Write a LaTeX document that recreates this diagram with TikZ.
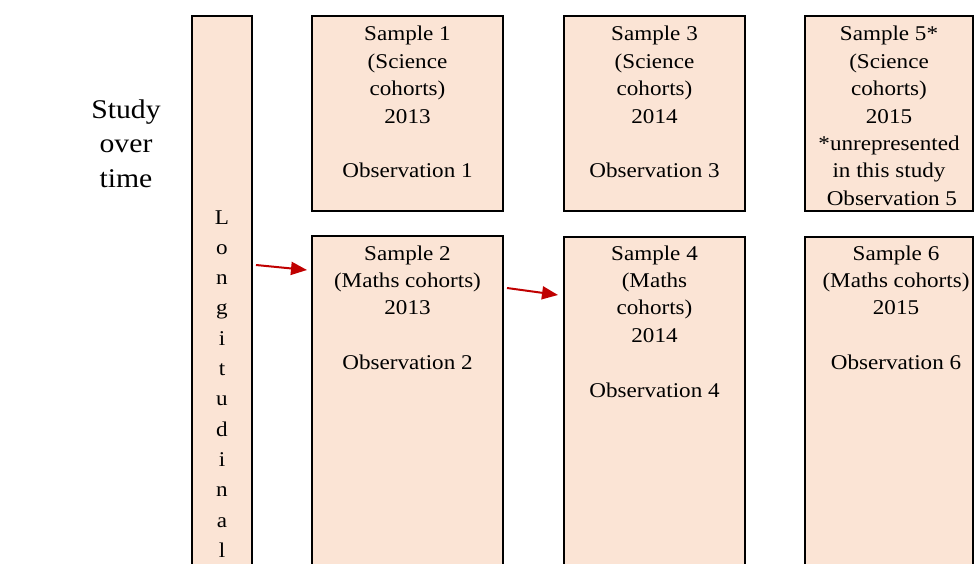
\documentclass[tikz,border=0pt]{standalone}
\usepackage{fontspec}
\setmainfont{Liberation Serif}[FakeStretch=1.1]
\usetikzlibrary{arrows.meta}
\definecolor{peach}{HTML}{FBE4D5}
\definecolor{arrred}{HTML}{C00000}
\newcommand{\boxtext}[4]{\parbox[t][#1][t]{#2}{\centering\fontsize{21}{27.4}\selectfont\rule{0pt}{#3}#4}}
\begin{document}
\begin{tikzpicture}[x=1pt,y=-1pt,
  panel/.style={draw=black, line width=2.2pt, fill=peach, inner sep=0pt, outer sep=0pt, anchor=north west},
  arr/.style={draw=arrred, line width=2pt, -{Triangle[length=16pt,width=13pt]}},
  lbl/.style={align=center, font=\fontsize{27}{34.5}\selectfont, inner sep=0pt}]
\useasboundingbox (0,0) rectangle (974,564);
\clip (0,0) rectangle (974,564);
\node[lbl, anchor=north] (study) at (126,99.5) {Study\\over\\time};
\node[panel] (long) at (192,16) {\parbox[t][584pt][t]{60pt}{\centering\fontsize{21}{30.3}\selectfont\rule{0pt}{208pt}L\\o\\n\\g\\i\\t\\u\\d\\i\\n\\a\\l}};
\node[panel] (s1) at (312,16) {\boxtext{195pt}{191pt}{25pt}{Sample 1\\(Science\\cohorts)\\2013\\[27.4pt]Observation 1}};
\node[panel] (s3) at (564,16) {\boxtext{195pt}{181pt}{25pt}{Sample 3\\(Science\\cohorts)\\2014\\[27.4pt]Observation 3}};
\node[panel] (s5) at (805,16) {\boxtext{195pt}{168pt}{25pt}{Sample 5*\\(Science\\cohorts)\\2015\\{}*unrepresented\\in this study\\\ Observation 5}};
\node[panel] (s2) at (312,236) {\boxtext{364pt}{191pt}{24pt}{Sample 2\\(Maths cohorts)\\2013\\[27.4pt]Observation 2}};
\node[panel] (s4) at (564,237) {\boxtext{364pt}{181pt}{23pt}{Sample 4\\(Maths\\cohorts)\\2014\\[27.4pt]Observation 4}};
\node[panel] (s6) at (805,237) {\parbox[t][364pt][t]{168pt}{\centering\rightskip=-14pt plus 1fil\fontsize{21}{27.4}\selectfont\rule{0pt}{23pt}Sample 6\\(Maths cohorts)\\2015\\[27.4pt]Observation 6}};
\coordinate (a1s) at (256,265);
\coordinate (a1e) at (307,270);
\coordinate (a2s) at (507,288);
\coordinate (a2e) at (558,295);
\draw[arr] (a1s) -- (a1e);
\draw[arr] (a2s) -- (a2e);
\end{tikzpicture}
\end{document}
